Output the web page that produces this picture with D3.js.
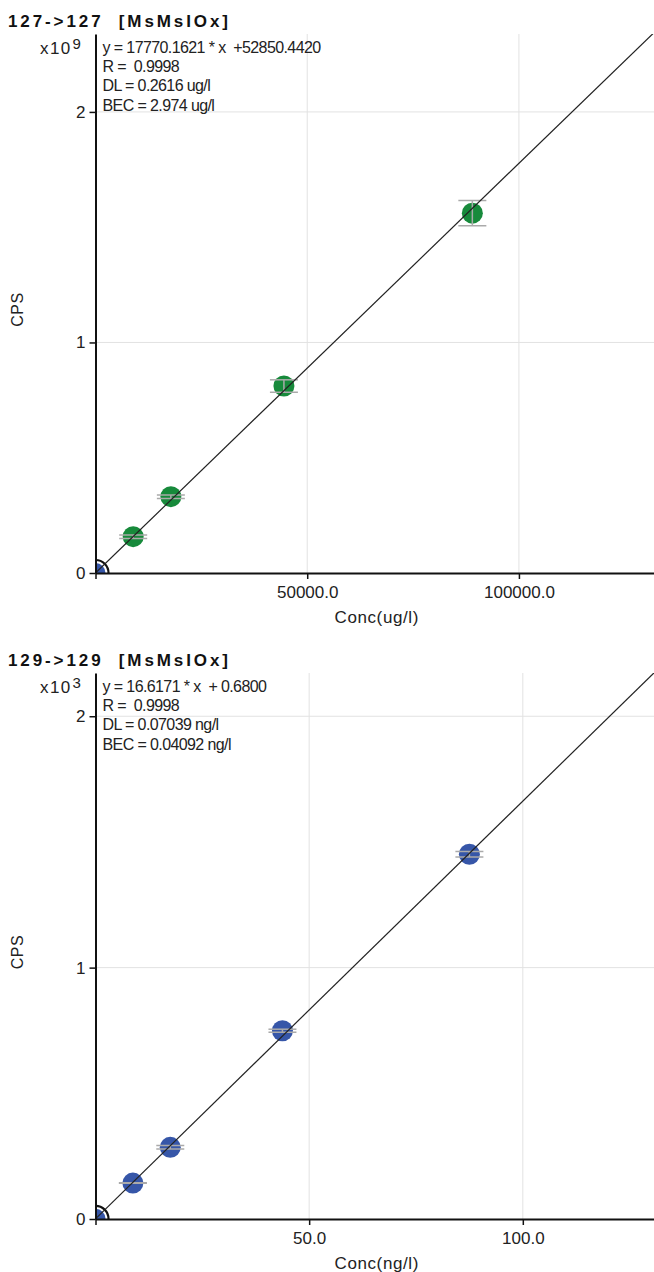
<!DOCTYPE html>
<html>
<head>
<meta charset="utf-8">
<script src="https://cdn.jsdelivr.net/npm/d3@7"></script>
<style>
  body { margin: 0; background: #fff; }
  text { font-family: "Liberation Sans", Arial, sans-serif; fill: #222; white-space: pre; }
  .title { font-weight: bold; font-size: 17px; fill: #111; letter-spacing: 2.9px; }
  .stat { font-size: 16px; letter-spacing: -0.6px; }
  .expo { font-size: 17px; letter-spacing: 1.4px; }
  .axtitle { font-size: 17px; letter-spacing: 0.6px; }
  .tick text { font-size: 17px; fill: #222; }
  .grid line { stroke: #e2e2e2; stroke-width: 1; }
</style>
</head>
<body>
<div id="chart"></div>
<script>
// ---- data ----
// 127 -> 127 panel
var concTop = [8900, 17800, 44500, 89000];
var cpsTop = [0.1575e9, 0.331e9, 0.811e9, 1.561e9];
var sdTop = [0.0074e9, 0.0074e9, 0.027e9, 0.055e9];
var blankTop = [0, 52850];
var fitTop = [17770.1621, 52850.4420];
var xTicksTop = [0, 50000, 100000];
var xLabelsTop = ["", "50000.0", "100000.0"];
var yTicksTop = [0, 1e9, 2e9];
var yLabelsTop = ["0", "1", "2"];
var statsTop = ["y = 17770.1621 * x  +52850.4420", "R =  0.9998", "DL = 0.2616 ug/l", "BEC = 2.974 ug/l"];

// 129 -> 129 panel
var concBot = [8.75, 17.5, 43.75, 87.5];
var cpsBot = [143, 285, 749, 1451];
var sdBot = [1, 7, 6, 11];
var blankBot = [0, 0.68];
var fitBot = [16.6171, 0.6800];
var xTicksBot = [0, 50, 100];
var xLabelsBot = ["", "50.0", "100.0"];
var yTicksBot = [0, 1000, 2000];
var yLabelsBot = ["0", "1", "2"];
var statsBot = ["y = 16.6171 * x  + 0.6800", "R =  0.9998", "DL = 0.07039 ng/l", "BEC = 0.04092 ng/l"];

var svgWidth = 654;
var svgHeight = 1272;

var svg = d3.select("#chart")
    .append("svg")
    .attr("width", svgWidth)
    .attr("height", svgHeight);

function drawPanel(p) {
    var g = svg.append("g").attr("transform", `translate(${p.left}, ${p.top})`);
    var width = p.right - p.left;
    var height = p.bottom - p.top;

    var x = d3.scaleLinear().domain([0, p.xMax]).range([0, width]);
    var y = d3.scaleLinear().domain([0, p.yMax]).range([height, 0]);

    // clip to the plot area
    svg.append("clipPath").attr("id", p.id)
        .append("rect")
        .attr("x", 0).attr("y", 0)
        .attr("width", width).attr("height", height);

    // grid lines
    var grid = g.append("g").classed("grid", true);
    grid.selectAll(".gx")
        .data(p.xTicks.filter(d => d > 0))
        .enter().append("line")
        .attr("x1", d => x(d)).attr("x2", d => x(d))
        .attr("y1", 0).attr("y2", height);
    grid.selectAll(".gy")
        .data(p.yTicks.filter(d => d > 0))
        .enter().append("line")
        .attr("x1", 0).attr("x2", width)
        .attr("y1", d => y(d)).attr("y2", d => y(d));

    var plot = g.append("g").attr("clip-path", `url(#${p.id})`);

    // standards
    var pts = p.conc.map((c, i) => ({c: c, v: p.cps[i], sd: p.sd[i]}));
    plot.selectAll(".dot")
        .data(pts)
        .enter().append("circle")
        .attr("cx", d => x(d.c))
        .attr("cy", d => y(d.v))
        .attr("r", 10.5)
        .attr("fill", p.color);

    // error bars
    var eb = plot.selectAll(".eb").data(pts).enter().append("g")
        .attr("stroke", "#aaa").attr("stroke-width", 1.5);
    eb.append("line")
        .attr("x1", d => x(d.c)).attr("x2", d => x(d.c))
        .attr("y1", d => y(d.v + d.sd)).attr("y2", d => y(d.v - d.sd));
    eb.append("line")
        .attr("x1", d => x(d.c) - 14).attr("x2", d => x(d.c) + 14)
        .attr("y1", d => y(d.v + d.sd)).attr("y2", d => y(d.v + d.sd));
    eb.append("line")
        .attr("x1", d => x(d.c) - 14).attr("x2", d => x(d.c) + 14)
        .attr("y1", d => y(d.v - d.sd)).attr("y2", d => y(d.v - d.sd));

    // blank point with its ring
    plot.append("circle")
        .attr("cx", x(p.blank[0])).attr("cy", y(p.blank[1]))
        .attr("r", 10).attr("fill", "#3656a8");
    plot.append("circle")
        .attr("cx", x(p.blank[0])).attr("cy", y(p.blank[1]))
        .attr("r", 13).attr("fill", "none")
        .attr("stroke", "#111").attr("stroke-width", 2.2);

    // regression line
    var xs = [0, p.xMax];
    plot.append("path")
        .datum(xs)
        .attr("fill", "none")
        .attr("stroke", "#222")
        .attr("stroke-width", 1.2)
        .attr("d", d3.line().x(d => x(d)).y(d => y(p.fit[0] * d + p.fit[1])));

    // axes
    g.append("g")
        .attr("transform", `translate(0,${height})`)
        .call(d3.axisBottom(x).tickValues(p.xTicks).tickSize(6).tickSizeOuter(0)
            .tickFormat((d, i) => p.xLabels[i]))
        .call(a => a.select(".domain").attr("stroke", "#111").attr("stroke-width", 2))
        .call(a => a.selectAll(".tick line").attr("stroke", "#111").attr("stroke-width", 1.5))
        .call(a => a.selectAll(".tick text").attr("y", 9).attr("dy", "0.95em"));

    g.append("g")
        .call(d3.axisLeft(y).tickValues(p.yTicks).tickSize(6).tickSizeOuter(0)
            .tickFormat((d, i) => p.yLabels[i]))
        .call(a => a.select(".domain").attr("stroke", "#111").attr("stroke-width", 2))
        .call(a => a.selectAll(".tick line").attr("stroke", "#111").attr("stroke-width", 1.5))
        .call(a => a.selectAll(".tick text").attr("x", -10));

    // labels
    svg.append("text").classed("title", true)
        .attr("x", 8).attr("y", p.top - 7)
        .text(p.title);

    var ex = svg.append("text").classed("expo", true)
        .attr("x", 40).attr("y", p.top + 20);
    ex.append("tspan").text("x10");
    ex.append("tspan").attr("dx", 1).attr("dy", -5).style("font-size", "15px").text(p.exp);

    svg.selectAll(null)
        .data(p.stats)
        .enter().append("text").classed("stat", true)
        .attr("x", p.left + 7)
        .attr("y", (d, i) => p.top + 19 + i * 19.2)
        .text(d => d);

    svg.append("text").classed("axtitle", true)
        .attr("transform", `translate(23, ${p.top + height / 2 + 6}) rotate(-90)`)
        .style("text-anchor", "middle")
        .style("font-size", "16px")
        .text("CPS");

    svg.append("text").classed("axtitle", true)
        .attr("x", p.left + width / 2 + 2).attr("y", p.bottom + 50)
        .style("text-anchor", "middle")
        .text(p.xTitle);
}

drawPanel({
    id: "clipTop", left: 95.5, right: 654, top: 34, bottom: 573,
    xMax: 131900, yMax: 2.338e9,
    conc: concTop, cps: cpsTop, sd: sdTop, blank: blankTop, fit: fitTop,
    xTicks: xTicksTop, xLabels: xLabelsTop, yTicks: yTicksTop, yLabels: yLabelsTop,
    stats: statsTop, color: "#178a3b", exp: "9",
    title: "127->127  [MsMsIOx]", xTitle: "Conc(ug/l)"
});

drawPanel({
    id: "clipBot", left: 95.5, right: 654, top: 673, bottom: 1219,
    xMax: 130.7, yMax: 2172,
    conc: concBot, cps: cpsBot, sd: sdBot, blank: blankBot, fit: fitBot,
    xTicks: xTicksBot, xLabels: xLabelsBot, yTicks: yTicksBot, yLabels: yLabelsBot,
    stats: statsBot, color: "#3656a8", exp: "3",
    title: "129->129  [MsMsIOx]", xTitle: "Conc(ng/l)"
});
</script>
</body>
</html>
